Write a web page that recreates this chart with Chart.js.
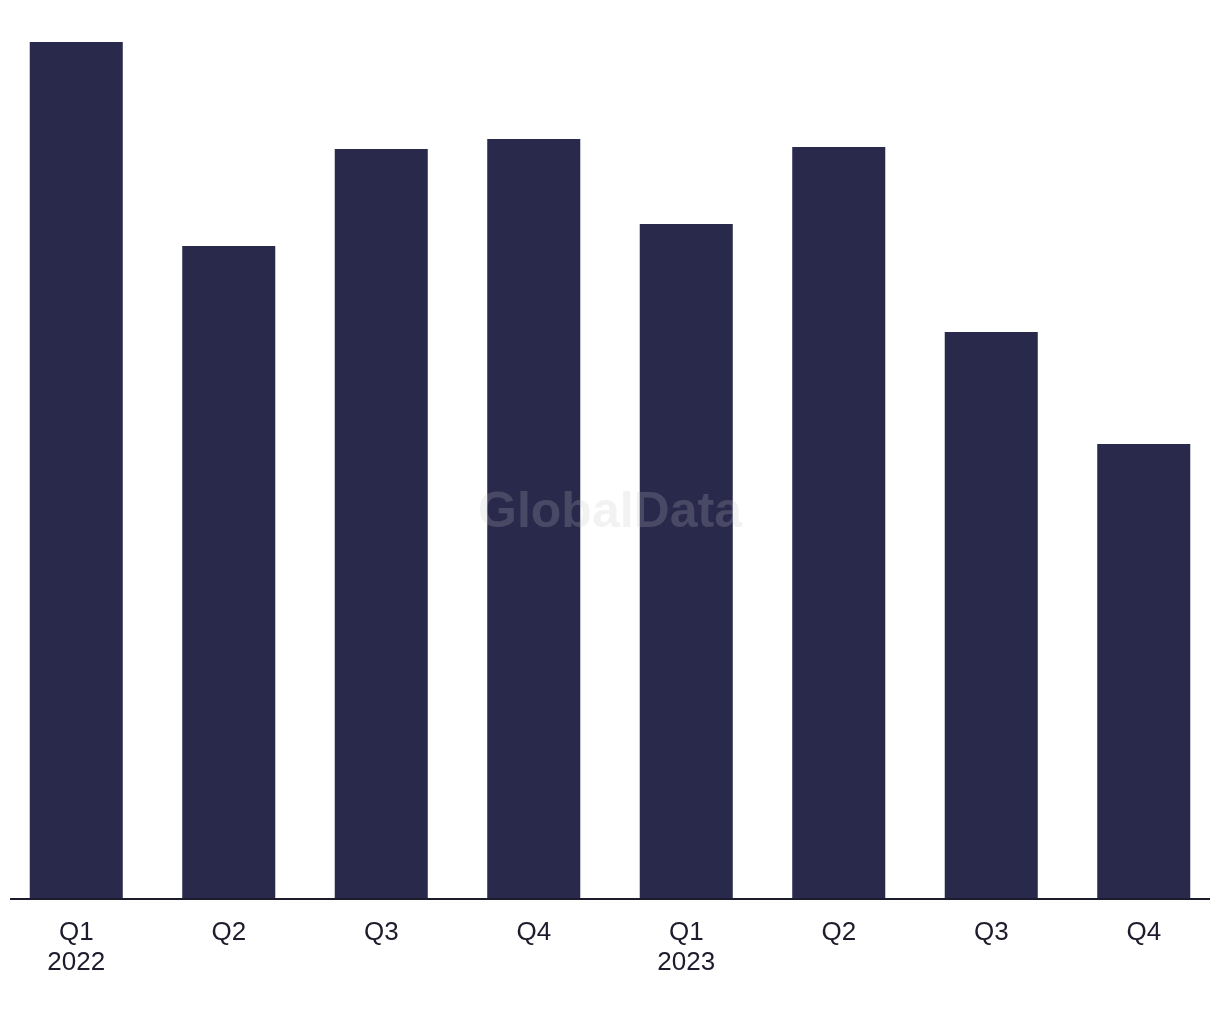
<!DOCTYPE html>
<html>
<head>
  <title>Quarterly bars</title>
  <script src="https://cdn.jsdelivr.net/npm/chart.js"></script>
  <style>
    html, body { margin: 0; padding: 0; background: #fff; }
    #wrap { width: 1220px; height: 1020px; }
  </style>
</head>
<body>
  <div id="wrap"><canvas id="chart" width="1220" height="1020"></canvas></div>

  <script>
    const quarters = [['Q1', '2022'], 'Q2', 'Q3', 'Q4', ['Q1', '2023'], 'Q2', 'Q3', 'Q4'];
    const values = [85.7, 65.3, 75.0, 76.0, 67.5, 75.2, 56.7, 45.5];
    const yMax = 85.7;

    // axis line and watermark
    const extras = {
      id: 'extras',
      afterDatasetsDraw(chart) {
        const ctx = chart.ctx;
        const a = chart.chartArea;
        ctx.save();
        ctx.strokeStyle = '#1c1c2c';
        ctx.lineWidth = 2;
        ctx.beginPath();
        ctx.moveTo(10, a.bottom);
        ctx.lineTo(1210, a.bottom);
        ctx.stroke();

        ctx.fillStyle = 'rgba(194,194,200,0.21)';
        ctx.font = 'bold 50px "Liberation Sans", Arial, sans-serif';
        ctx.textAlign = 'center';
        ctx.textBaseline = 'alphabetic';
        ctx.fillText('GlobalData', 610, 527);
        ctx.restore();
      }
    };

    new Chart(document.getElementById('chart'), {
      type: 'bar',
      data: {
        labels: quarters,
        datasets: [{
          data: values,
          backgroundColor: '#29294c',
          barPercentage: 0.61,
          categoryPercentage: 1
        }]
      },
      options: {
        responsive: false,
        animation: false,
        layout: { padding: { top: 42, left: 0, right: 0, bottom: 0 } },
        plugins: { legend: { display: false }, tooltip: { enabled: false } },
        scales: {
          x: {
            grid: { display: false },
            border: { display: false },
            ticks: {
              color: '#1c1c2c',
              padding: 11,
              maxRotation: 0,
              autoSkip: false,
              font: { family: '"Liberation Sans", Arial, sans-serif', size: 26, lineHeight: 1.15 }
            },
            afterFit(scale) { scale.height = 121; }
          },
          y: {
            display: false,
            min: 0,
            max: yMax
          }
        }
      },
      plugins: [extras]
    });
  </script>
</body>
</html>
